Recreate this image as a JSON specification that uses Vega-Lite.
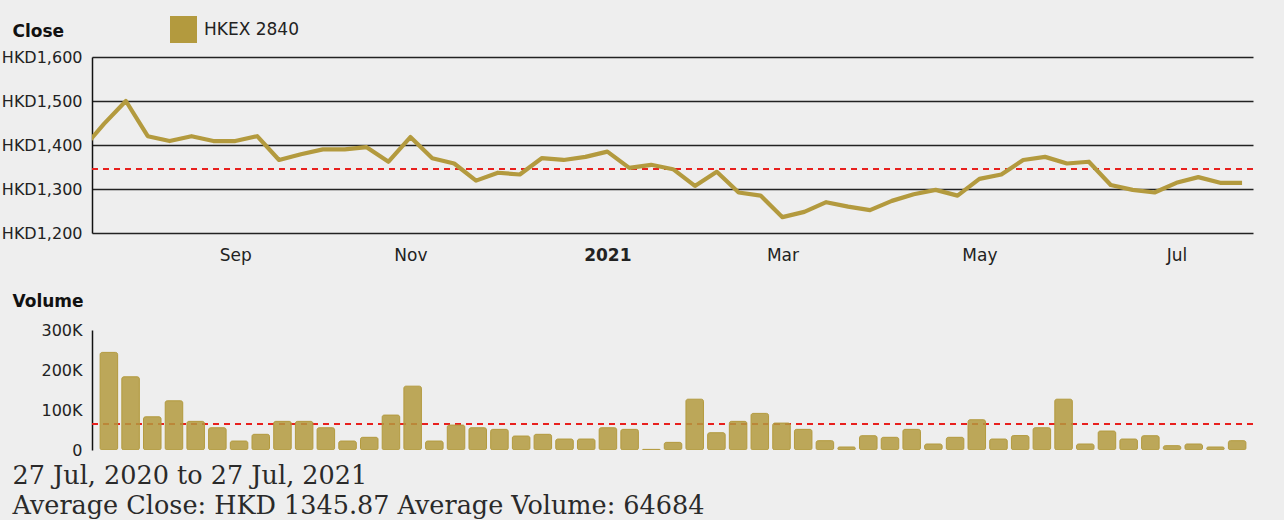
{
  "$schema": "https://vega.github.io/schema/vega-lite/v6.json",
  "autosize": {"type": "none"},
  "padding": {"left": 92, "top": 57, "right": 1192, "bottom": 463},
  "background": "#eeeeee",
  "config": {
    "view": {"stroke": null},
    "font": "DejaVu Sans",
    "axis": {
      "labelFont": "DejaVu Sans", "labelFontSize": 17, "labelColor": "#222222",
      "ticks": false, "domainColor": "#111111", "domainWidth": 1.5,
      "gridColor": "#222222", "gridWidth": 1.5,
      "titleFont": "DejaVu Sans", "titleFontSize": 17, "titleFontWeight": "bold", "titleColor": "#111111",
      "titleAngle": 0, "titleAlign": "left", "titleBaseline": "alphabetic"
    }
  },
  "datasets": {
    "weekly": [
      {"date": "2020-07-20", "close": 1390, "volume": null},
      {"date": "2020-07-27", "close": 1448, "volume": 244000},
      {"date": "2020-08-03", "close": 1500, "volume": 183000},
      {"date": "2020-08-10", "close": 1420, "volume": 83000},
      {"date": "2020-08-17", "close": 1409, "volume": 123000},
      {"date": "2020-08-24", "close": 1420, "volume": 71600},
      {"date": "2020-08-31", "close": 1409, "volume": 55600},
      {"date": "2020-09-07", "close": 1409, "volume": 22400},
      {"date": "2020-09-14", "close": 1420, "volume": 39200},
      {"date": "2020-09-21", "close": 1366, "volume": 71600},
      {"date": "2020-09-28", "close": 1379, "volume": 71600},
      {"date": "2020-10-05", "close": 1390, "volume": 55600},
      {"date": "2020-10-12", "close": 1390, "volume": 22400},
      {"date": "2020-10-19", "close": 1395, "volume": 31700},
      {"date": "2020-10-26", "close": 1362, "volume": 87300},
      {"date": "2020-11-02", "close": 1418, "volume": 159600},
      {"date": "2020-11-09", "close": 1370, "volume": 22400},
      {"date": "2020-11-16", "close": 1358, "volume": 62300},
      {"date": "2020-11-23", "close": 1319, "volume": 55600},
      {"date": "2020-11-30", "close": 1337, "volume": 51600},
      {"date": "2020-12-07", "close": 1333, "volume": 34900},
      {"date": "2020-12-14", "close": 1370, "volume": 39200},
      {"date": "2020-12-21", "close": 1366, "volume": 27400},
      {"date": "2020-12-28", "close": 1373, "volume": 27400},
      {"date": "2021-01-04", "close": 1385, "volume": 55600},
      {"date": "2021-01-11", "close": 1348, "volume": 51600},
      {"date": "2021-01-18", "close": 1355, "volume": 1500},
      {"date": "2021-01-25", "close": 1345, "volume": 19100},
      {"date": "2021-02-01", "close": 1307, "volume": 127000},
      {"date": "2021-02-08", "close": 1339, "volume": 43200},
      {"date": "2021-02-15", "close": 1292, "volume": 71600},
      {"date": "2021-02-22", "close": 1285, "volume": 91500},
      {"date": "2021-03-01", "close": 1236, "volume": 67300},
      {"date": "2021-03-08", "close": 1248, "volume": 51600},
      {"date": "2021-03-15", "close": 1270, "volume": 23300},
      {"date": "2021-03-22", "close": 1260, "volume": 7500},
      {"date": "2021-03-29", "close": 1252, "volume": 35700},
      {"date": "2021-04-05", "close": 1273, "volume": 31700},
      {"date": "2021-04-12", "close": 1288, "volume": 51600},
      {"date": "2021-04-19", "close": 1298, "volume": 15000},
      {"date": "2021-04-26", "close": 1285, "volume": 31700},
      {"date": "2021-05-03", "close": 1323, "volume": 75600},
      {"date": "2021-05-10", "close": 1333, "volume": 27400},
      {"date": "2021-05-17", "close": 1366, "volume": 36000},
      {"date": "2021-05-24", "close": 1373, "volume": 55600},
      {"date": "2021-05-31", "close": 1358, "volume": 127000},
      {"date": "2021-06-07", "close": 1362, "volume": 15000},
      {"date": "2021-06-14", "close": 1309, "volume": 47400},
      {"date": "2021-06-21", "close": 1298, "volume": 27400},
      {"date": "2021-06-28", "close": 1292, "volume": 35700},
      {"date": "2021-07-05", "close": 1314, "volume": 10800},
      {"date": "2021-07-12", "close": 1327, "volume": 15000},
      {"date": "2021-07-19", "close": 1314, "volume": 7500},
      {"date": "2021-07-26", "close": 1314, "volume": 23300}
    ]
  },
  "bounds": "flush",
  "spacing": 97,
  "vconcat": [
    {
      "width": 1161,
      "height": 176,
      "data": {"name": "weekly"},
      "layer": [
        {
          "mark": {"type": "rule", "color": "#e8201e", "strokeWidth": 1.5, "strokeDash": [6, 5]},
          "encoding": {
            "y": {
              "datum": 1345.87, "type": "quantitative",
              "scale": {"domain": [1200, 1600], "nice": false, "zero": false},
              "title": "Close",
              "axis": {
                "values": [1200, 1300, 1400, 1500, 1600], "tickCount": 10,
                "labelExpr": "'HKD' + format(datum.value, ',')",
                "labelFontSize": 16, "labelOverlap": false,
                "grid": true, "domain": true, "labelPadding": 10,
                "title": "Close", "titleX": -80, "titleY": -21
              }
            }
          }
        },
        {
          "mark": {"type": "line", "strokeWidth": 4.2, "clip": true, "strokeJoin": "round"},
          "encoding": {
            "x": {
              "field": "date", "type": "temporal",
              "scale": {"type": "utc", "domain": [
                {"year": 2020, "month": 7, "date": 23, "hours": 4, "utc": true},
                {"year": 2021, "month": 7, "date": 29, "hours": 12, "utc": true}
              ]},
              "axis": {
                "values": [
                  {"year": 2020, "month": 9, "date": 7, "utc": true},
                  {"year": 2020, "month": 11, "date": 2, "utc": true},
                  {"year": 2021, "month": 1, "date": 4, "utc": true},
                  {"year": 2021, "month": 3, "date": 1, "utc": true},
                  {"year": 2021, "month": 5, "date": 3, "utc": true},
                  {"year": 2021, "month": 7, "date": 5, "utc": true}
                ],
                "tickCount": 20,
                "labelExpr": "utcmonth(datum.value) === 0 ? utcFormat(datum.value, '%Y') : utcFormat(datum.value, '%b')",
                "labelFontWeight": {"condition": {"test": "utcmonth(datum.value) === 0", "value": "bold"}, "value": "normal"},
                "domain": false, "grid": false, "ticks": false, "labelPadding": 14, "title": null
              }
            },
            "y": {"field": "close", "type": "quantitative", "title": "Close"},
            "color": {
              "datum": "HKEX 2840",
              "scale": {"range": ["#b39a3e"]},
              "legend": {
                "orient": "none", "legendX": 78, "legendY": -41, "title": null,
                "symbolType": "square", "symbolSize": 729, "symbolStrokeWidth": 0,
                "symbolFillColor": "#b39a3e",
                "labelFont": "DejaVu Sans", "labelFontSize": 17, "labelColor": "#222222",
                "labelOffset": 7, "padding": 0,
                "encode": {"symbols": {"update": {"fill": {"value": "#b39a3e"}, "stroke": {"value": "#b39a3e"}, "strokeWidth": {"value": 0}}}}
              }
            }
          }
        }
      ]
    },
    {
      "width": 1161,
      "height": 120,
      "data": {"name": "weekly"},
      "layer": [
        {
          "mark": {"type": "rule", "color": "#e8201e", "strokeWidth": 1.5, "strokeDash": [6, 5]},
          "encoding": {
            "y": {
              "datum": 64684, "type": "quantitative",
              "scale": {"domain": [0, 300000], "nice": false},
              "title": "Volume",
              "axis": {
                "values": [0, 100000, 200000, 300000], "tickCount": 10,
                "labelExpr": "datum.value == 0 ? '0' : format(datum.value / 1000, 'd') + 'K'",
                "labelFontSize": 16, "labelOverlap": false,
                "grid": false, "domain": true, "labelPadding": 10,
                "title": "Volume", "titleX": -80, "titleY": -24
              }
            }
          }
        },
        {
          "mark": {"type": "bar", "size": 17.5, "cornerRadius": 2, "fill": "#b39a3e", "fillOpacity": 0.85, "stroke": "#b39a3e", "strokeWidth": 1, "clip": true},
          "encoding": {
            "x": {
              "field": "date", "type": "temporal",
              "scale": {"type": "utc", "domain": [
                {"year": 2020, "month": 7, "date": 23, "hours": 4, "utc": true},
                {"year": 2021, "month": 7, "date": 29, "hours": 12, "utc": true}
              ]},
              "axis": {
                "labels": false, "domain": false, "grid": false, "ticks": false,
                "title": ["27 Jul, 2020 to 27 Jul, 2021", "Average Close: HKD 1345.87 Average Volume: 64684"],
                "titleFont": "DejaVu Serif", "titleFontSize": 25.5, "titleFontWeight": "normal",
                "titleColor": "#2a2a2a", "titleX": -80, "titleY": 33, "titleLineHeight": 30
              }
            },
            "y": {"field": "volume", "type": "quantitative", "stack": null, "title": "Volume"}
          }
        }
      ]
    }
  ]
}
